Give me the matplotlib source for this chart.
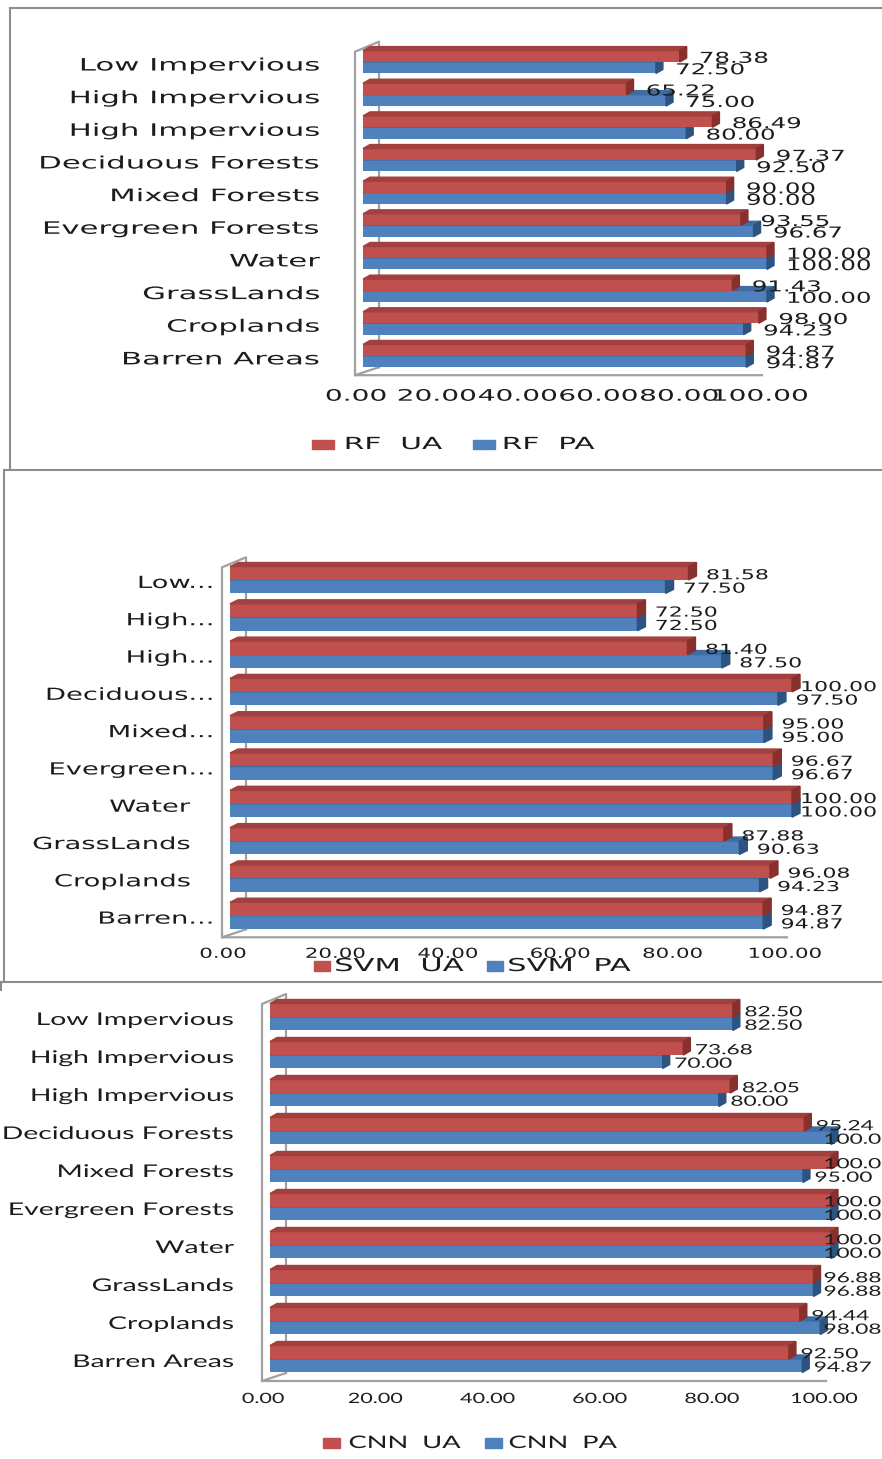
import numpy as np
import matplotlib
matplotlib.use('Agg')
import matplotlib.pyplot as plt
from matplotlib import patheffects
from matplotlib.patches import Polygon, Rectangle
from matplotlib.lines import Line2D
from matplotlib.transforms import Affine2D, ScaledTranslation

W, H = 882, 1459

# classes, top to bottom
classes = ['Low Impervious', 'High Impervious', 'High Impervious', 'Deciduous Forests',
           'Mixed Forests', 'Evergreen Forests', 'Water', 'GrassLands', 'Croplands',
           'Barren Areas']
classes_short = ['Low...', 'High...', 'High...', 'Deciduous...', 'Mixed...',
                 'Evergreen...', 'Water', 'GrassLands', 'Croplands', 'Barren...']

rf_ua = [78.38, 65.22, 86.49, 97.37, 90.00, 93.55, 100.00, 91.43, 98.00, 94.87]
rf_pa = [72.50, 75.00, 80.00, 92.50, 90.00, 96.67, 100.00, 100.00, 94.23, 94.87]

svm_ua = [81.58, 72.50, 81.40, 100.00, 95.00, 96.67, 100.00, 87.88, 96.08, 94.87]
svm_pa = [77.50, 72.50, 87.50, 97.50, 95.00, 96.67, 100.00, 90.63, 94.23, 94.87]

cnn_ua = [82.50, 73.68, 82.05, 95.24, 100.00, 100.00, 100.00, 96.88, 94.44, 92.50]
cnn_pa = [82.50, 70.00, 80.00, 100.00, 95.00, 100.00, 100.00, 96.88, 98.08, 94.87]

ticks = [0, 20, 40, 60, 80, 100]

RED, RED_TOP, RED_SIDE = '#C0504D', '#A2403D', '#88302E'
BLUE, BLUE_TOP, BLUE_SIDE = '#4F81BD', '#3F6CA2', '#2E5380'
WALL = '#A0A0A0'
FRAME = '#8C8C8C'
TXT = '#1c1c1c'


class Stretch(patheffects.AbstractPathEffect):
    # widen the glyphs sideways, keeping the aligned edge where it is
    def __init__(self, sx, anchor='left'):
        super().__init__()
        self.sx = sx
        self.anchor = anchor

    def draw_path(self, renderer, gc, tpath, affine, rgbFace=None):
        box = tpath.get_extents(affine)
        x = {'left': box.x0, 'right': box.x1, 'center': (box.x0 + box.x1) / 2}[self.anchor]
        t = affine + Affine2D().translate(-x, 0).scale(self.sx, 1).translate(x, 0)
        renderer.draw_path(gc, tpath, t, rgbFace)


fig = plt.figure(figsize=(W / 100, H / 100), dpi=100)
fig.patch.set_facecolor('white')
# pixel coordinates, origin top left
pix = Affine2D().scale(1 / W, -1 / H).translate(0, 1) + fig.transFigure


def shifted(trans, dx, dy):
    return trans + ScaledTranslation(dx / 100, -dy / 100, fig.dpi_scale_trans)


def frame_line(xs, ys):
    fig.add_artist(Line2D(xs, ys, transform=pix, color=FRAME, lw=1.5))


def draw_panel(left, top, scale, row, names, ua, pa, legend, font, sizes, sx,
               depth=(7, 4), bar_h=0.35, name_dx=-40, dots_dx=0, label_dy=3,
               gap=15, clamp=None, tick_dy=22, leg_y=0, leg_x=(), leg_box=(20, 10)):
    ax = fig.add_axes([left / W, 1 - (top + 10 * row) / H, 100 * scale / W, 10 * row / H])
    ax.set_xlim(0, 100)
    ax.set_ylim(9.5, -0.5)
    ax.axis('off')
    y = np.arange(len(names))
    ddx = depth[0] / scale
    ddy = depth[1] / row
    bottom = top + 10 * row
    right = left + 100 * scale

    # side wall and floor of the 3d plot area
    fx, bx = left - 8, left + 16
    floor = bottom + 3
    kw = dict(transform=pix, color=WALL, lw=1.6, clip_on=False, zorder=0.5)
    ax.plot([fx, fx, bx, bx], [floor, top + 6, top - 4, floor - 8], **kw)
    ax.plot([right - 5, fx, bx], [floor, floor, floor - 8], **kw)

    # blue first so the red bar sits over its top face
    for vals, yy, front, topc, side in [(pa, y + bar_h / 2, BLUE, BLUE_TOP, BLUE_SIDE),
                                        (ua, y - bar_h / 2, RED, RED_TOP, RED_SIDE)]:
        ax.barh(yy, vals, height=bar_h, color=front, zorder=2)
        for v, c in zip(vals, yy):
            y0, y1 = c - bar_h / 2, c + bar_h / 2
            ax.add_patch(Polygon([(0, y0), (v, y0), (v + ddx, y0 - ddy), (ddx, y0 - ddy)],
                                 color=topc, zorder=2, clip_on=False))
            ax.add_patch(Polygon([(v, y0), (v, y1), (v + ddx, y1 - ddy), (v + ddx, y0 - ddy)],
                                 color=side, zorder=2, clip_on=False))

    # value labels
    for vals, yy in [(ua, y - bar_h / 2), (pa, y + bar_h / 2)]:
        for v, c in zip(vals, yy):
            xl = v + gap / scale
            if clamp is not None:
                xl = min(xl, (clamp - left) / scale)
            ax.text(xl, c, f'{v:.2f}', transform=shifted(ax.transData, 0, 2),
                    ha='left', va='center', fontsize=sizes[1], family=font, color=TXT,
                    path_effects=[Stretch(sx[1], 'left')])

    # category names
    for i, name in enumerate(names):
        dx = name_dx + (dots_dx if name.endswith('...') else 0)
        ax.text(0, i, name, transform=shifted(ax.transData, dx, label_dy),
                ha='right', va='center', fontsize=sizes[0], family=font, color=TXT,
                path_effects=[Stretch(sx[0], 'right')])

    # value axis
    for t in ticks:
        ax.text(t, 0, f'{t:.2f}', transform=shifted(ax.get_xaxis_transform(), -7, tick_dy),
                ha='center', va='center', fontsize=sizes[2], family=font, color=TXT,
                path_effects=[Stretch(sx[2], 'center')])

    # legend
    for (sq, tx), color, lab in zip(leg_x, [RED, BLUE], legend):
        fig.add_artist(Rectangle((sq, leg_y - leg_box[1] / 2), leg_box[0], leg_box[1],
                                 transform=pix, color=color))
        fig.text(tx, leg_y, lab, transform=pix, ha='left', va='center',
                 fontsize=sizes[3], family=font, color=TXT,
                 path_effects=[Stretch(sx[3], 'left')])
    return ax


# chart borders
frame_line([10, 10], [470, 8])
frame_line([10, 882], [8, 8])
frame_line([4, 4], [982, 470])
frame_line([4, 882], [470, 470])
frame_line([0, 882], [982, 982])
frame_line([1, 1], [982, 990])

# random forest
draw_panel(363, 45.7, 4.04, 32.65, classes, rf_ua, rf_pa, ['RF  UA', 'RF  PA'],
           'DejaVu Sans', sizes=(12.3, 10.8, 11.4, 12), sx=(1.8, 1.63, 1.77, 1.78),
           depth=(7, 4), bar_h=0.35, name_dx=-43, label_dy=3.5, gap=20,
           tick_dy=24, leg_y=444, leg_x=[(312, 345), (473, 503)], leg_box=(22, 9))

# support vector machine
draw_panel(230, 561.3, 5.62, 37.3, classes_short, svm_ua, svm_pa, ['SVM  UA', 'SVM  PA'],
           'DejaVu Sans', sizes=(12, 9.9, 9.9, 12.8), sx=(1.64, 1.6, 1.55, 1.72),
           depth=(8, 4), bar_h=0.36, name_dx=-40, dots_dx=23, label_dy=3, gap=18,
           clamp=801, tick_dy=19.5, leg_y=966, leg_x=[(314, 335), (487, 508)], leg_box=(16, 10))

# convolutional network
draw_panel(270, 998, 5.61, 38, classes, cnn_ua, cnn_pa, ['CNN  UA', 'CNN  PA'],
           'Lato', sizes=(12.6, 10.2, 10.2, 12.4), sx=(1.62, 1.6, 1.52, 1.58),
           depth=(7, 4), bar_h=0.355, name_dx=-36, label_dy=3, gap=12,
           clamp=824, tick_dy=21, leg_y=1443, leg_x=[(323, 349), (485, 509)], leg_box=(17, 10))

fig.savefig('out.png', dpi=100, facecolor='white')
